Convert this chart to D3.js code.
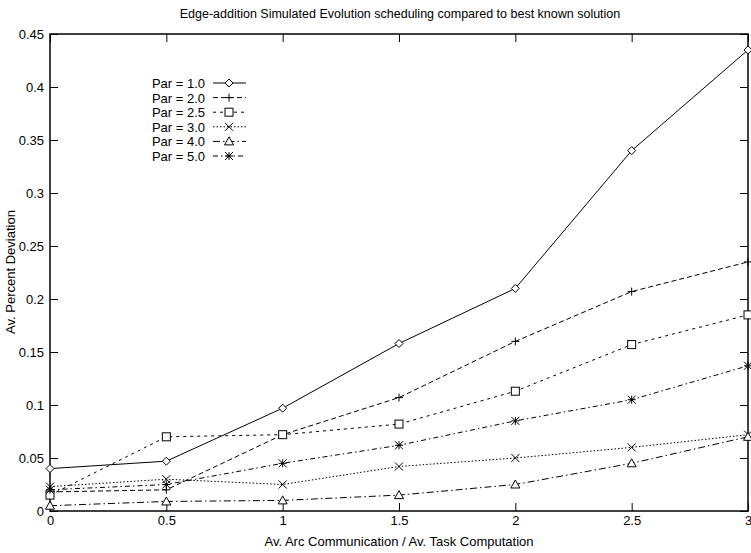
<!DOCTYPE html>
<html>
<head>
<meta charset="utf-8">
<script src="https://cdn.jsdelivr.net/npm/d3@7"></script>
<style>
  body { margin: 0; background: #fff; }
  text { font-family: "Liberation Sans", Arial, sans-serif; fill: #000; }
</style>
</head>
<body>
<svg id="chart" width="751" height="553"></svg>
<script>
// Data
var xValues = [0, 0.5, 1, 1.5, 2, 2.5, 3];
var par10 = [0.040, 0.047, 0.097, 0.158, 0.210, 0.340, 0.435];
var par20 = [0.018, 0.020, 0.072, 0.107, 0.160, 0.207, 0.235];
var par25 = [0.015, 0.070, 0.072, 0.082, 0.113, 0.157, 0.185];
var par30 = [0.023, 0.030, 0.025, 0.042, 0.050, 0.060, 0.072];
var par40 = [0.005, 0.009, 0.010, 0.015, 0.025, 0.045, 0.070];
var par50 = [0.020, 0.025, 0.045, 0.062, 0.085, 0.105, 0.137];
var seriesNames = ["Par = 1.0", "Par = 2.0", "Par = 2.5", "Par = 3.0", "Par = 4.0", "Par = 5.0"];
var xTicks = [0, 0.5, 1, 1.5, 2, 2.5, 3];
var yTicks = [0, 0.05, 0.1, 0.15, 0.2, 0.25, 0.3, 0.35, 0.4, 0.45];

var seriesValues = [par10, par20, par25, par30, par40, par50];
var dashes = ["none", "5,3", "3,4", "1.5,2", "7,3,1.5,3", "5,3,1.5,3"];
var markers = ["diamond", "plus", "square", "cross", "triangle", "star"];

var svg = d3.select("#chart");
var margin = { left: 50, right: 3, top: 34, bottom: 42 };
var W = 751, H = 553;

var xScale = d3.scaleLinear().domain([0, 3]).range([margin.left, W - margin.right]);
var yScale = d3.scaleLinear().domain([0, 0.45]).range([H - margin.bottom, margin.top]);

// Title
svg.append("text")
   .attr("x", 400).attr("y", 18)
   .attr("text-anchor", "middle")
   .style("font-size", "12.5px")
   .text("Edge-addition Simulated Evolution scheduling compared to best known solution");

// Axes: inward ticks on all four sides
var tickLen = 8;
svg.append("g")
   .attr("transform", "translate(0," + yScale(0) + ")")
   .call(d3.axisBottom(xScale).tickValues(xTicks).tickSize(-tickLen).tickPadding(5)
         .tickFormat(function(d) { return d3.format("")(d); }))
   .call(function(g) { g.select(".domain").remove(); });
svg.append("g")
   .attr("transform", "translate(0," + yScale(0.45) + ")")
   .call(d3.axisTop(xScale).tickValues(xTicks).tickSize(-tickLen).tickFormat(""))
   .call(function(g) { g.select(".domain").remove(); });
svg.append("g")
   .attr("transform", "translate(" + xScale(0) + ",0)")
   .call(d3.axisLeft(yScale).tickValues(yTicks).tickSize(-tickLen).tickPadding(6)
         .tickFormat(function(d) { return d3.format("")(+d.toFixed(2)); }))
   .call(function(g) { g.select(".domain").remove(); });
svg.append("g")
   .attr("transform", "translate(" + xScale(3) + ",0)")
   .call(d3.axisRight(yScale).tickValues(yTicks).tickSize(-tickLen).tickFormat(""))
   .call(function(g) { g.select(".domain").remove(); });
svg.selectAll(".tick text").style("font-size", "13px").style("font-family", "'Liberation Sans', Arial, sans-serif");
svg.selectAll(".tick line").attr("stroke", "#000");

// frame
svg.append("rect")
   .attr("x", xScale(0)).attr("y", yScale(0.45))
   .attr("width", xScale(3) - xScale(0)).attr("height", yScale(0) - yScale(0.45))
   .attr("fill", "none").attr("stroke", "#000").attr("stroke-width", 1.5);

// Axis labels
svg.append("text")
   .attr("x", 399).attr("y", 546)
   .attr("text-anchor", "middle")
   .style("font-size", "13px")
   .text("Av. Arc Communication / Av. Task Computation");
svg.append("text")
   .attr("transform", "translate(15," + 272 + ") rotate(-90)")
   .attr("text-anchor", "middle")
   .style("font-size", "13px")
   .text("Av. Percent Deviation");

// Marker drawer
var drawMarker = function(g, type, cx, cy) {
  var s = 4;
  var m = g.append("g").attr("transform", "translate(" + cx + "," + cy + ")")
           .attr("stroke", "#000").attr("fill", "none").attr("stroke-width", 1);
  if (type == "diamond") {
    m.append("path").attr("d", "M0,-" + s + "L" + s + ",0L0," + s + "L-" + s + ",0Z").attr("fill", "#fff");
  } else if (type == "plus") {
    m.append("path").attr("d", "M-" + s + ",0H" + s + "M0,-" + s + "V" + s);
  } else if (type == "square") {
    m.append("rect").attr("x", -s).attr("y", -s).attr("width", 2 * s).attr("height", 2 * s).attr("fill", "#fff");
  } else if (type == "cross") {
    m.append("path").attr("d", "M-" + s + ",-" + s + "L" + s + "," + s + "M-" + s + "," + s + "L" + s + ",-" + s);
  } else if (type == "triangle") {
    m.append("path").attr("d", "M0,-" + (s + 0.5) + "L" + (s + 0.5) + "," + (s - 0.5) + "H-" + (s + 0.5) + "Z").attr("fill", "#fff");
  } else if (type == "star") {
    m.append("path").attr("d", "M-" + s + ",0H" + s + "M0,-" + s + "V" + s +
                               "M-" + s + ",-" + s + "L" + s + "," + s + "M-" + s + "," + s + "L" + s + ",-" + s);
  }
};

// Series lines
var line = d3.line()
  .x(function(d, i) { return xScale(xValues[i]); })
  .y(function(d) { return yScale(d); });

var plot = svg.append("g");
seriesValues.forEach(function(vals, k) {
  plot.append("path")
      .datum(vals)
      .attr("d", line)
      .attr("fill", "none")
      .attr("stroke", "#000")
      .attr("stroke-width", 1)
      .attr("stroke-dasharray", dashes[k]);
});
seriesValues.forEach(function(vals, k) {
  vals.forEach(function(v, i) {
    drawMarker(plot, markers[k], xScale(xValues[i]), yScale(v));
  });
});

// Legend
var legend = svg.append("g");
seriesNames.forEach(function(name, k) {
  var ly = 83 + k * 14.6;
  legend.append("text")
        .attr("x", 205).attr("y", ly + 5)
        .attr("text-anchor", "end")
        .style("font-size", "13px")
        .text(name);
  legend.append("line")
        .attr("x1", 213).attr("x2", 246)
        .attr("y1", ly).attr("y2", ly)
        .attr("stroke", "#000").attr("stroke-width", 1)
        .attr("stroke-dasharray", dashes[k]);
  drawMarker(legend, markers[k], 229, ly);
});
</script>
</body>
</html>
